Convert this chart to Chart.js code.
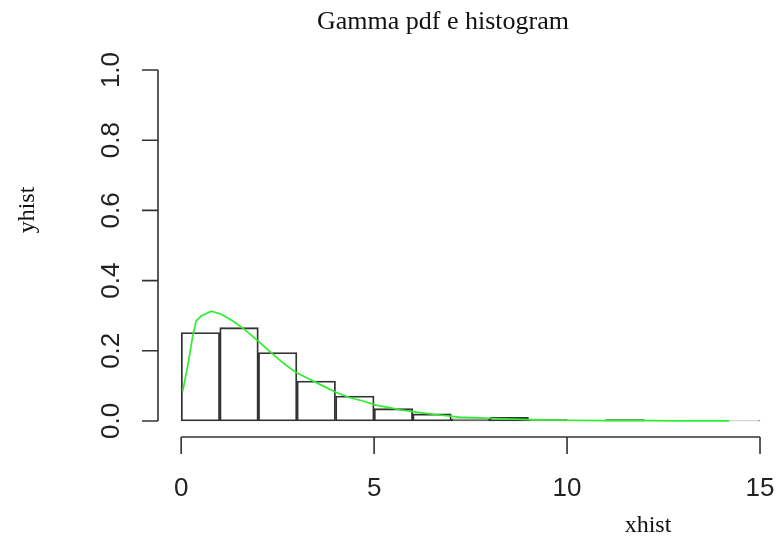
<!DOCTYPE html>
<html>
<head>
<meta charset="utf-8">
<script src="https://cdn.jsdelivr.net/npm/chart.js@4/dist/chart.umd.min.js"></script>
<style>
  body { margin: 0; background: #fff; }
  canvas { display: block; }
</style>
</head>
<body>
<canvas id="gamma_chart" width="777" height="542"></canvas>
<script>
// histogram breaks and densities (bin width 1)
var breaks = [0, 1, 2, 3, 4, 5, 6, 7, 8, 9, 10, 11, 12, 13, 14, 15];
var densities = [0.252, 0.266, 0.195, 0.114, 0.071, 0.035, 0.020, 0.006, 0.010, 0.004, 0, 0.004, 0, 0, 0.001];

// gamma pdf evaluated along xhist
var xhist = [0.04, 0.17, 0.30, 0.39, 0.52, 0.78, 1.04, 1.34, 1.64, 1.99, 2.33, 2.63, 2.98, 3.33, 3.67,
             4.02, 4.36, 4.71, 5.05, 5.40, 5.66, 6.18, 6.69, 7.21, 8.16, 9.0, 10.0, 11.0, 12.0, 13.0, 14.2];
var yhist = [0.085, 0.157, 0.242, 0.285, 0.299, 0.313, 0.304, 0.285, 0.261, 0.228, 0.195, 0.166, 0.138, 0.119, 0.100,
             0.081, 0.067, 0.057, 0.045, 0.038, 0.032, 0.024, 0.017, 0.011, 0.007, 0.004, 0.002, 0.001, 0.0007, 0.0003, 0.0001];

var xTicks = [0, 5, 10, 15];
var yTicks = [0, 0.2, 0.4, 0.6, 0.8, 1.0];
var yTickLabels = ['0.0', '0.2', '0.4', '0.6', '0.8', '1.0'];

var bins = [];
for (let i = 0; i < densities.length; i++) {
    bins.push({ x: (breaks[i] + breaks[i + 1]) / 2, y: densities[i] });
}
var curve = xhist.map(function (x, i) { return { x: x, y: yhist[i] }; });

var axisColor = '#333';

// base-graphics style axes, title and labels
var baseAxes = {
    id: 'baseAxes',
    afterDraw: function (chart) {
        var ctx = chart.ctx;
        var xs = chart.scales.x, ys = chart.scales.y;
        var left = chart.chartArea.left, bottom = chart.chartArea.bottom;
        ctx.save();
        ctx.strokeStyle = axisColor;
        ctx.lineWidth = 1.6;
        ctx.fillStyle = '#222';

        // y axis
        ctx.beginPath();
        ctx.moveTo(left, ys.getPixelForValue(yTicks[0]));
        ctx.lineTo(left, ys.getPixelForValue(yTicks[yTicks.length - 1]));
        yTicks.forEach(function (t) {
            var py = ys.getPixelForValue(t);
            ctx.moveTo(left, py);
            ctx.lineTo(left - 16, py);
        });
        ctx.stroke();
        ctx.font = '26px "Liberation Sans", Arial, sans-serif';
        ctx.textAlign = 'center';
        ctx.textBaseline = 'middle';
        yTicks.forEach(function (t, i) {
            ctx.save();
            ctx.translate(112, ys.getPixelForValue(t));
            ctx.rotate(-Math.PI / 2);
            ctx.fillText(yTickLabels[i], 0, 0);
            ctx.restore();
        });

        // x axis
        ctx.beginPath();
        ctx.moveTo(xs.getPixelForValue(xTicks[0]), bottom + 2);
        ctx.lineTo(xs.getPixelForValue(xTicks[xTicks.length - 1]), bottom + 2);
        xTicks.forEach(function (t) {
            var px = xs.getPixelForValue(t);
            ctx.moveTo(px, bottom + 2);
            ctx.lineTo(px, bottom + 19);
        });
        ctx.stroke();
        xTicks.forEach(function (t) {
            ctx.fillText(String(t), xs.getPixelForValue(t), 489);
        });

        // title and axis labels
        ctx.fillStyle = '#111';
        ctx.font = '26px "Liberation Serif", "Times New Roman", serif';
        ctx.fillText('Gamma pdf e histogram', 443, 22);
        ctx.font = '24px "Liberation Serif", "Times New Roman", serif';
        ctx.fillText('xhist', 648, 526);
        ctx.save();
        ctx.translate(28, 210);
        ctx.rotate(-Math.PI / 2);
        ctx.fillText('yhist', 0, 0);
        ctx.restore();
        ctx.restore();
    }
};

new Chart(document.getElementById('gamma_chart'), {
    type: 'bar',
    data: {
        datasets: [
            {
                type: 'line',
                label: 'dgamma',
                data: curve,
                borderColor: '#2bf02b',
                borderWidth: 1.7,
                pointRadius: 0,
                tension: 0,
                fill: false,
                order: 0
            },
            {
                type: 'bar',
                label: 'hist',
                data: bins,
                backgroundColor: 'rgba(255,255,255,0)',
                borderColor: axisColor,
                borderWidth: 1.2,
                borderSkipped: false,
                barPercentage: 1,
                categoryPercentage: 1,
                grouped: false,
                order: 1
            }
        ]
    },
    options: {
        responsive: false,
        devicePixelRatio: 1,
        animation: false,
        layout: { padding: { left: 158, top: 56, bottom: 107, right: 0 } },
        scales: {
            x: {
                type: 'linear',
                min: -0.6,
                max: 15.44,
                offset: false,
                display: false
            },
            y: {
                min: -0.04,
                max: 1.04,
                display: false
            }
        },
        plugins: {
            legend: { display: false },
            tooltip: { enabled: false }
        }
    },
    plugins: [baseAxes]
});
</script>
</body>
</html>
